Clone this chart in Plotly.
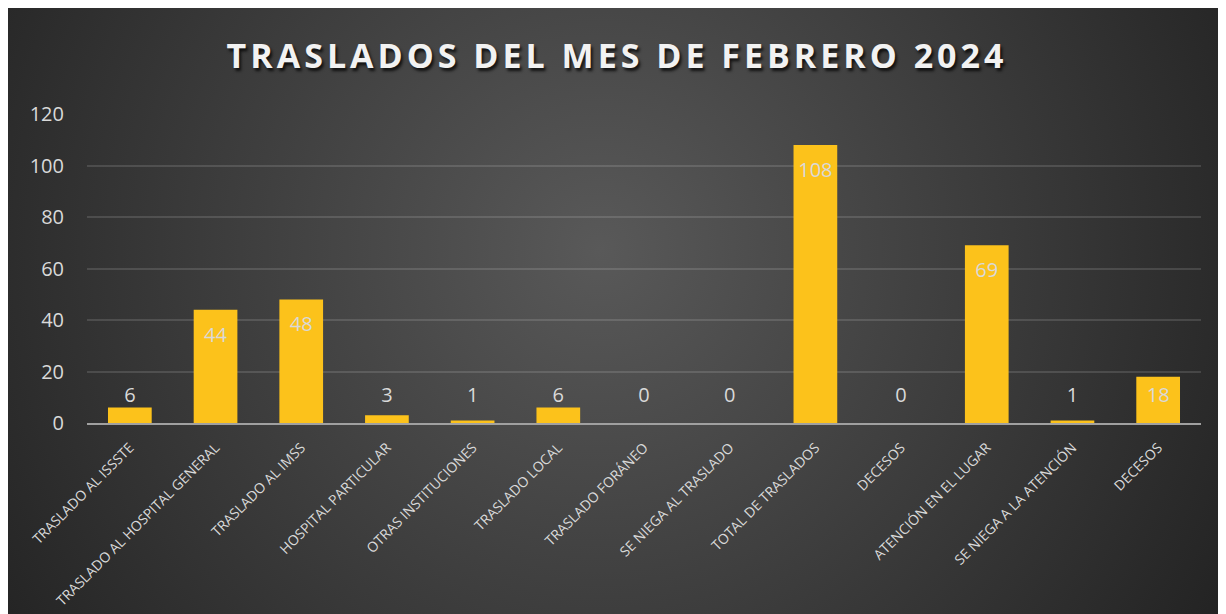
import base64
import plotly.graph_objects as go

categories = [
    "TRASLADO AL ISSSTE", "TRASLADO AL HOSPITAL GENERAL", "TRASLADO AL IMSS",
    "HOSPITAL PARTICULAR", "OTRAS INSTITUCIONES", "TRASLADO LOCAL",
    "TRASLADO FORÁNEO", "SE NIEGA AL TRASLADO", "TOTAL DE TRASLADOS",
    "DECESOS", "ATENCIÓN EN EL LUGAR", "SE NIEGA A LA ATENCIÓN", "DECESOS",
]
values = [6, 44, 48, 3, 1, 6, 0, 0, 108, 0, 69, 1, 18]
y_ticks = [0, 20, 40, 60, 80, 100, 120]
title_text = "TRASLADOS DEL MES DE FEBRERO 2024"

W, H = 1218, 606
L, R, T, B = 79, 25, 106, 191
pw = W - L - R
ph = H - T - B
upp = 120 / ph  # data units per pixel
xs = list(range(len(categories)))
label_y = [max(v - 27 * upp, 26 * upp) for v in values]

svg = (
    f'<svg xmlns="http://www.w3.org/2000/svg" width="{W}" height="{H}" viewBox="0 0 {W} {H}" '
    f'preserveAspectRatio="none"><defs><radialGradient id="g" gradientUnits="userSpaceOnUse" '
    f'cx="592" cy="242" r="720"><stop offset="0" stop-color="#595959"/>'
    f'<stop offset="1" stop-color="#232323"/></radialGradient></defs>'
    f'<rect width="{W}" height="{H}" fill="url(#g)"/></svg>'
)
src = "data:image/svg+xml;base64," + base64.b64encode(svg.encode()).decode()

fig = go.Figure()
fig.add_trace(go.Bar(
    x=xs, y=values, width=0.51,
    marker=dict(color="#FCC21B", line=dict(width=0)),
    hoverinfo="skip",
))
fig.add_trace(go.Scatter(
    x=xs, y=label_y, mode="text", text=[str(v) for v in values],
    textposition="middle center",
    textfont=dict(family="Open Sans", size=20, color="#d9d9d9"),
    hoverinfo="skip",
))

fig.update_layout(
    width=W, height=H,
    margin=dict(l=L, r=R, t=T, b=B, pad=0, autoexpand=False),
    paper_bgcolor="#2a2a2a",
    plot_bgcolor="rgba(0,0,0,0)",
    showlegend=False,
    font=dict(family="Open Sans", color="#d9d9d9"),
    images=[dict(
        source=src, xref="paper", yref="paper",
        x=-L / pw, y=1 + T / ph, sizex=W / pw, sizey=H / ph,
        xanchor="left", yanchor="top", sizing="stretch", layer="below",
    )],
    title=dict(
        text=f'<span style="letter-spacing:4px">{title_text}</span>',
        x=0.5, xanchor="center", xref="container",
        y=1 - 48 / H, yanchor="middle", yref="container",
        font=dict(family="Open Sans", size=34, weight=700, color="#f2f2f2",
                  shadow="2px 3px 3px rgba(0,0,0,0.75)"),
    ),
    xaxis=dict(
        range=[-0.5, len(categories) - 0.5],
        tickvals=xs, ticktext=categories, tickangle=-45,
        tickfont=dict(size=14, color="#d9d9d9"),
        showline=True, linecolor="#a0a0a0", linewidth=2,
        showgrid=False, zeroline=False, ticks="",
        ticklabelstandoff=9, automargin=False,
    ),
    yaxis=dict(
        range=[0, 120], tickvals=y_ticks,
        tickfont=dict(size=20, color="#d9d9d9"),
        showgrid=True, gridcolor="rgba(255,255,255,0.13)", gridwidth=1.5,
        zeroline=False, showline=False, ticks="",
        ticklabelstandoff=22, automargin=False,
    ),
)

fig.write_html("out.html")
